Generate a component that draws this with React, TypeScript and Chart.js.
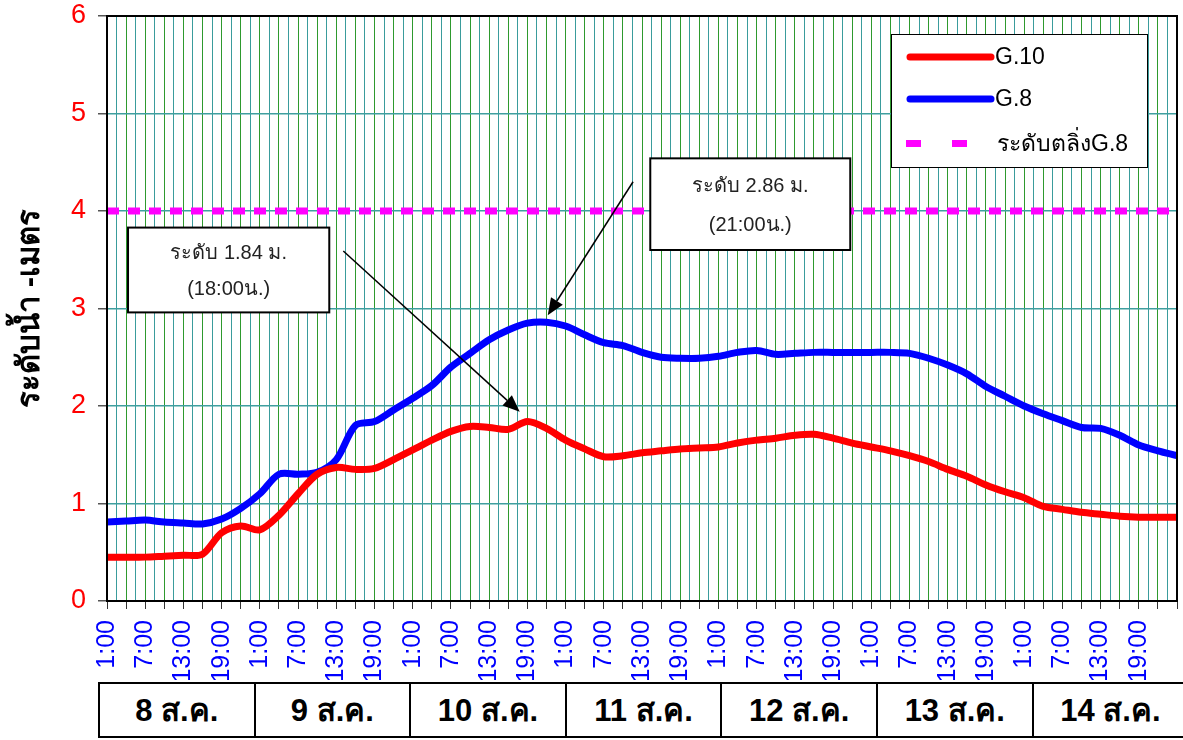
import React, { useEffect, useRef } from "react";
import { Chart, registerables } from "chart.js";

Chart.register(...registerables);

// hours since 1:00 of 8 Aug (3-hour steps)
const hours = [
  0, 3, 6, 9, 12, 15, 18, 21, 24, 27, 30, 33, 36, 39, 42, 45, 48, 51, 54,
  57, 60, 63, 66, 69, 72, 75, 78, 81, 84, 87, 90, 93, 96, 99, 102, 105, 108,
  111, 114, 117, 120, 123, 126, 129, 132, 135, 138, 141, 144, 147, 150, 153,
  156, 159, 162, 165, 168,
];

const g10 = [
  0.45, 0.45, 0.45, 0.46, 0.47, 0.48, 0.7, 0.77, 0.73, 0.88, 1.1, 1.3, 1.37,
  1.35, 1.36, 1.45, 1.55, 1.65, 1.74, 1.79, 1.78, 1.76, 1.84, 1.77, 1.65,
  1.56, 1.48, 1.49, 1.52, 1.54, 1.56, 1.57, 1.58, 1.62, 1.65, 1.67, 1.7,
  1.71, 1.67, 1.62, 1.58, 1.54, 1.49, 1.43, 1.35, 1.28, 1.19, 1.12, 1.06,
  0.97, 0.94, 0.91, 0.89, 0.87, 0.86, 0.86, 0.86,
];

const g8 = [
  0.81, 0.82, 0.83, 0.81, 0.8, 0.79, 0.84, 0.95, 1.1, 1.3, 1.3, 1.32, 1.45,
  1.8, 1.84, 1.96, 2.08, 2.21, 2.4, 2.54, 2.68, 2.78, 2.85, 2.86, 2.82, 2.73,
  2.65, 2.62, 2.55, 2.5, 2.49, 2.49, 2.51, 2.55, 2.57, 2.53, 2.54, 2.55,
  2.55, 2.55, 2.55, 2.55, 2.54, 2.49, 2.42, 2.33, 2.2, 2.1, 2.0, 1.92, 1.85,
  1.78, 1.77, 1.7, 1.6, 1.54, 1.49,
];

const bankHours = [0, 168];
const bankValues = [4, 4];

const timeLabels = ["1:00", "7:00", "13:00", "19:00"];
const dayLabels = [
  "8 ส.ค.",
  "9 ส.ค.",
  "10 ส.ค.",
  "11 ส.ค.",
  "12 ส.ค.",
  "13 ส.ค.",
  "14 ส.ค.",
];

const seriesNames = ["G.10", "G.8", "ระดับตลิ่งG.8"];

// annotation callouts in data units (hours, metres)
const notes = [
  {
    lines: ["ระดับ 1.84 ม.", "(18:00น.)"],
    box: [3.3, 3.83, 34.9, 2.96],
    from: [37.1, 3.59],
    to: [64.8, 1.94],
  },
  {
    lines: ["ระดับ 2.86 ม.", "(21:00น.)"],
    box: [85.3, 4.54, 116.7, 3.6],
    from: [82.6, 4.3],
    to: [69.2, 2.93],
  },
];

const FONT = '"Liberation Sans", Arial, Tahoma, sans-serif';

const overlayPlugin = {
  id: "overlay",
  afterDatasetsDraw(chart: any) {
    const { ctx, chartArea: ca, scales } = chart;
    const xs = scales.x;
    const ys = scales.y;
    ctx.save();
    // plot frame
    ctx.strokeStyle = "#000";
    ctx.lineWidth = 2;
    ctx.strokeRect(ca.left, ca.top, ca.right - ca.left, ca.bottom - ca.top);

    // callouts
    for (const n of notes) {
      const x1 = xs.getPixelForValue(n.from[0]);
      const y1 = ys.getPixelForValue(n.from[1]);
      const x2 = xs.getPixelForValue(n.to[0]);
      const y2 = ys.getPixelForValue(n.to[1]);
      const ang = Math.atan2(y2 - y1, x2 - x1);
      const hl = 17;
      const hw = 7;
      const bx = x2 - hl * Math.cos(ang);
      const by = y2 - hl * Math.sin(ang);
      ctx.strokeStyle = "#000";
      ctx.lineWidth = 1.5;
      ctx.beginPath();
      ctx.moveTo(x1, y1);
      ctx.lineTo(bx, by);
      ctx.stroke();
      ctx.fillStyle = "#000";
      ctx.beginPath();
      ctx.moveTo(x2, y2);
      ctx.lineTo(bx + hw * Math.sin(ang), by - hw * Math.cos(ang));
      ctx.lineTo(bx - hw * Math.sin(ang), by + hw * Math.cos(ang));
      ctx.closePath();
      ctx.fill();

      const l = xs.getPixelForValue(n.box[0]);
      const t = ys.getPixelForValue(n.box[1]);
      const r = xs.getPixelForValue(n.box[2]);
      const b = ys.getPixelForValue(n.box[3]);
      ctx.fillStyle = "#fff";
      ctx.fillRect(l, t, r - l, b - t);
      ctx.lineWidth = 2;
      ctx.strokeRect(l, t, r - l, b - t);
      ctx.fillStyle = "#222";
      ctx.font = `20px ${FONT}`;
      ctx.textAlign = "center";
      ctx.textBaseline = "middle";
      const h = b - t;
      ctx.fillText(n.lines[0], (l + r) / 2, t + h * 0.31);
      ctx.fillText(n.lines[1], (l + r) / 2, t + h * 0.73);
    }

    // legend
    const lx = ca.right - 286;
    const ly = ca.top + 18;
    const lw = 256;
    const lh = 133;
    ctx.fillStyle = "#fff";
    ctx.fillRect(lx, ly, lw, lh);
    ctx.strokeStyle = "#000";
    ctx.lineWidth = 1;
    ctx.strokeRect(lx + 0.5, ly + 0.5, lw, lh);
    const rows = [
      { y: ly + 23, color: "#ff0000", dashed: false },
      { y: ly + 65, color: "#0000ff", dashed: false },
      { y: ly + 110, color: "#ff00ff", dashed: true },
    ];
    rows.forEach((row, i) => {
      if (row.dashed) {
        ctx.fillStyle = row.color;
        ctx.fillRect(lx + 15, row.y - 4, 15, 7);
        ctx.fillRect(lx + 61, row.y - 4, 15, 7);
      } else {
        ctx.strokeStyle = row.color;
        ctx.lineWidth = 7;
        ctx.lineCap = "round";
        ctx.beginPath();
        ctx.moveTo(lx + 19, row.y);
        ctx.lineTo(lx + 100, row.y);
        ctx.stroke();
      }
      ctx.fillStyle = "#000";
      ctx.font = `23px ${FONT}`;
      ctx.textAlign = "left";
      ctx.textBaseline = "middle";
      ctx.fillText(seriesNames[i], lx + (row.dashed ? 106 : 104), row.y + 1);
    });
    ctx.restore();
  },
};

export default function App() {
  const ref = useRef<HTMLCanvasElement | null>(null);

  useEffect(() => {
    if (!ref.current) return;
    const chart = new Chart(ref.current, {
      type: "line",
      data: {
        datasets: [
          {
            label: seriesNames[0],
            data: hours.map((h, i) => ({ x: h, y: g10[i] })),
            borderColor: "#ff0000",
            backgroundColor: "#ff0000",
            borderWidth: 7,
            pointRadius: 0,
            tension: 0.3,
            borderCapStyle: "round",
            borderJoinStyle: "round",
          },
          {
            label: seriesNames[1],
            data: hours.map((h, i) => ({ x: h, y: g8[i] })),
            borderColor: "#0000ff",
            backgroundColor: "#0000ff",
            borderWidth: 7,
            pointRadius: 0,
            tension: 0.3,
            borderCapStyle: "round",
            borderJoinStyle: "round",
          },
          {
            label: seriesNames[2],
            data: bankHours.map((h, i) => ({ x: h, y: bankValues[i] })),
            borderColor: "#ff00ff",
            backgroundColor: "#ff00ff",
            borderWidth: 7,
            borderDash: [12, 9],
            pointRadius: 0,
          },
        ],
      },
      options: {
        responsive: false,
        animation: false,
        events: [],
        layout: {
          autoPadding: false,
          padding: { top: 16, right: 6, left: 0, bottom: 0 },
        },
        plugins: {
          legend: { display: false },
          tooltip: { enabled: false },
        },
        scales: {
          x: {
            type: "linear",
            min: 0,
            max: 168,
            afterFit: (s: any) => {
              s.height = 79;
              s.paddingLeft = 0;
              s.paddingRight = 0;
              s.paddingTop = 0;
              s.paddingBottom = 0;
            },
            ticks: {
              stepSize: 1.5,
              autoSkip: false,
              minRotation: 90,
              maxRotation: 90,
              padding: 11,
              color: "#0000ff",
              font: { family: FONT, size: 25 },
              callback: (v: any) => {
                const h = Number(v);
                if (Math.abs(h % 6) < 1e-6 && h < 168) {
                  return timeLabels[Math.round(h / 6) % 4];
                }
                return "";
              },
            },
            grid: {
              display: true,
              drawOnChartArea: true,
              drawTicks: true,
              tickLength: 8,
              lineWidth: 1,
              color: (c: any) => {
                const v = c.tick ? c.tick.value : 0;
                if (v <= 0 || v >= 168) return "rgba(0,0,0,0)";
                return Math.abs(v % 3) < 1e-6 ? "#2e9a2e" : "#3a9c9c";
              },
              tickColor: (c: any) => {
                const v = c.tick ? c.tick.value : 0;
                return Math.abs(v % 3) < 1e-6 ? "#333" : "rgba(0,0,0,0)";
              },
            },
            border: { display: true, color: "#000", width: 2 },
          },
          y: {
            min: 0,
            max: 6,
            afterFit: (s: any) => {
              s.width = 107;
              s.paddingLeft = 0;
              s.paddingRight = 0;
              s.paddingTop = 0;
              s.paddingBottom = 0;
            },
            ticks: {
              stepSize: 1,
              padding: 12,
              color: "#ff0000",
              font: { family: FONT, size: 27 },
            },
            grid: {
              color: "#3f9f9f",
              lineWidth: 1.5,
              tickLength: 9,
              tickColor: "#555",
            },
            border: { display: true, color: "#000", width: 2 },
            title: {
              display: true,
              text: "ระดับน้ำ -เมตร",
              color: "#000",
              font: { family: FONT, size: 31, weight: "bold" },
              padding: { top: 12, bottom: 0 },
            },
          },
        },
      },
      plugins: [overlayPlugin],
    } as any);
    return () => chart.destroy();
  }, []);

  const cellW = 155.6;
  return (
    <div
      style={{
        position: "absolute",
        left: 0,
        top: 0,
        width: 1183,
        height: 740,
        background: "#fff",
        overflow: "hidden",
      }}
    >
      <canvas
        ref={ref}
        width={1183}
        height={680}
        style={{ position: "absolute", left: 0, top: 0 }}
      />
      {dayLabels.map((d, i) => (
        <div
          key={d}
          style={{
            position: "absolute",
            left: 98 + i * cellW,
            top: 682,
            width: cellW + 2,
            height: 56,
            boxSizing: "border-box",
            border: "2px solid #000",
            display: "flex",
            alignItems: "center",
            justifyContent: "center",
            fontFamily: FONT,
            fontWeight: "bold",
            fontSize: 31,
            color: "#000",
          }}
        >
          {d}
        </div>
      ))}
    </div>
  );
}
